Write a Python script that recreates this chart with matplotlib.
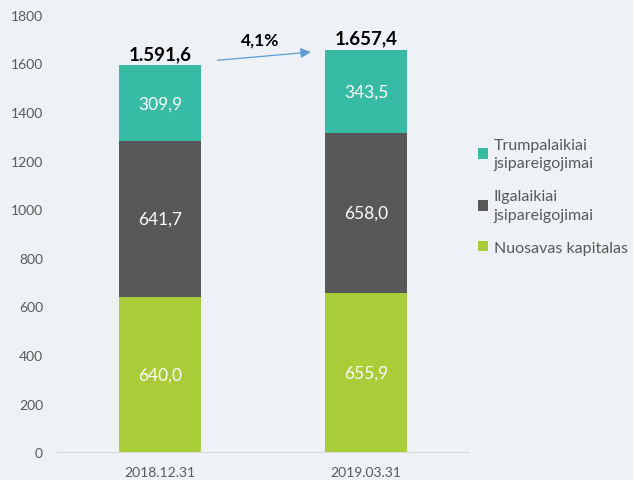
import matplotlib.pyplot as plt
import numpy as np

dates = ['2018.12.31', '2019.03.31']
nuosavas = [640.0, 655.9]
ilgalaikiai = [641.7, 658.0]
trumpalaikiai = [309.9, 343.5]
totals = [1591.6, 1657.4]
change_label = '4,1%'

series = [
    ('Nuosavas kapitalas', nuosavas, '#A9CD38'),
    ('Ilgalaikiai\njsipareigojimai', ilgalaikiai, '#58585A'),
    ('Trumpalaikiai\njsipareigojimai', trumpalaikiai, '#38BBA5'),
]

bg = '#EEF2F6'
plt.rcParams['font.family'] = ['Lato', 'DejaVu Sans']

fig = plt.figure(figsize=(6.33, 4.81), dpi=100, facecolor=bg)
ax = fig.add_axes([0.090, 0.058, 0.651, 0.909], facecolor=bg)

x = np.arange(len(dates))
bottom = np.zeros(len(dates))
handles = []
for label, vals, color in series:
    vals = np.array(vals)
    h = ax.bar(x, vals, 0.4, bottom=bottom, color=color, label=label)
    handles.append(h)
    for xi, b, v in zip(x, bottom, vals):
        ax.text(xi, b + v / 2, f'{v:.1f}'.replace('.', ','), ha='center', va='center',
                color='white', fontsize=12.5)
    bottom += vals

for xi, t in zip(x, totals):
    s = f'{t:,.1f}'.replace(',', ' ').replace('.', ',').replace(' ', '.')
    ax.annotate(s, (xi, t), xytext=(0, 2), textcoords='offset points',
                ha='center', va='bottom', fontsize=13.5, fontweight='bold', color='black')

ax.annotate('', xy=(0.745, 1648), xytext=(0.267, 1612),
            arrowprops=dict(arrowstyle='-|>', color='#5B9BD5', lw=0.9, mutation_scale=15))
ax.text(0.485, 1700, change_label, ha='center', va='center', fontsize=12.5,
        fontweight='bold', color='black')

ax.set_xlim(-0.5, 1.5)
ax.set_ylim(0, 1800)
ax.set_yticks(np.arange(0, 1801, 200))
ax.set_xticks(x)
ax.set_xticklabels(dates)
ax.tick_params(axis='both', length=0, colors='#595959', labelsize=10)
ax.tick_params(axis='y', pad=10)
ax.tick_params(axis='x', pad=10)
for s in ['top', 'right', 'left']:
    ax.spines[s].set_visible(False)
ax.spines['bottom'].set_color('#D9D9D9')

leg = fig.legend(handles[::-1], [h.get_label() for h in handles[::-1]],
                 loc='upper left', bbox_to_anchor=(0.737, 0.735), frameon=False,
                 fontsize=11.5, handlelength=0.65, handleheight=0.65, handletextpad=0.35,
                 labelspacing=1.2, labelcolor='#595959', borderpad=0.2)
for t in leg.get_texts():
    t.set_linespacing(1.4)

fig.savefig('out.png', dpi=100, facecolor=bg)
